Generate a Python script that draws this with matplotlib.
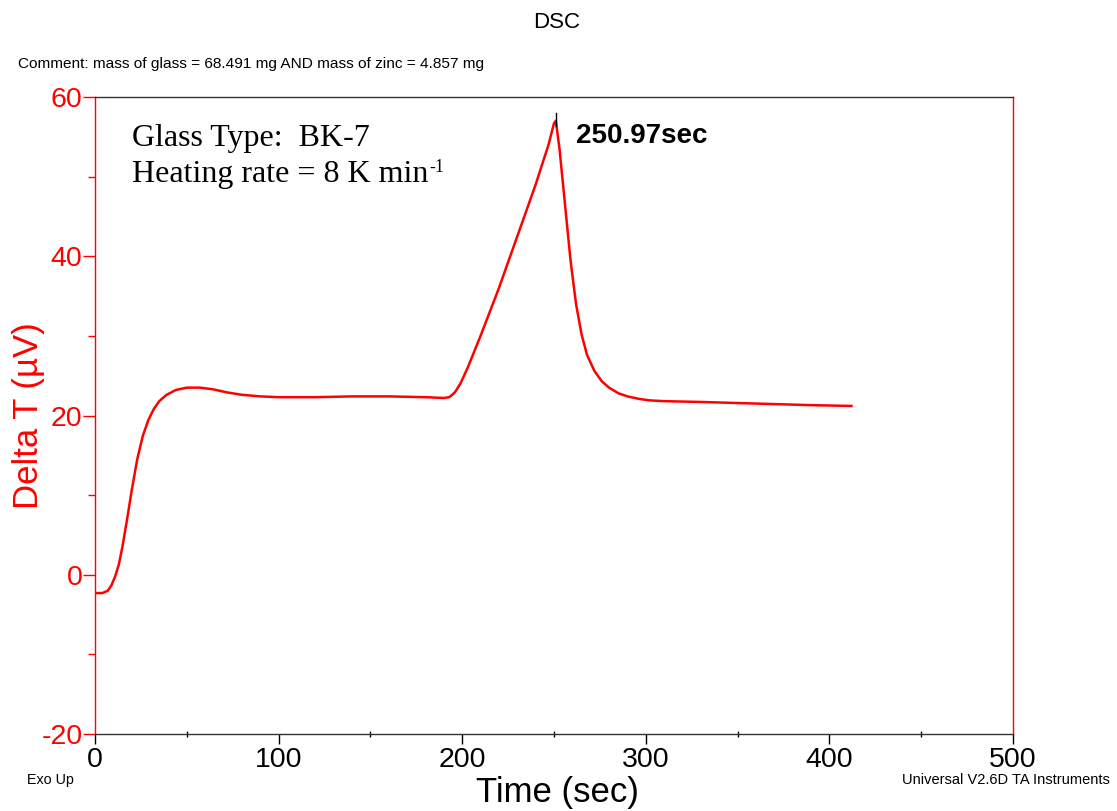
import numpy as np
import matplotlib
matplotlib.use("Agg")
import matplotlib.pyplot as plt
from matplotlib.ticker import MultipleLocator

plt.rcParams["axes.unicode_minus"] = False

# DSC trace (time in sec, Delta T in uV)
time_sec = [1, 4, 7, 9, 11, 13, 15, 17.5, 20, 23, 26, 29, 32, 35, 39, 44, 50, 57, 64,
            72, 80, 90, 100, 120, 140, 160, 180, 190, 193, 196, 199, 203, 210, 220,
            230, 240, 247, 250, 251, 253, 256, 259, 262, 265, 268, 272, 276, 280,
            285, 290, 296, 302, 310, 330, 360, 390, 412]
delta_t = [-2.3, -2.3, -2.0, -1.3, -0.2, 1.3, 3.6, 7.0, 10.6, 14.5, 17.4, 19.4, 20.8,
           21.8, 22.6, 23.2, 23.5, 23.5, 23.3, 22.9, 22.6, 22.4, 22.3, 22.3, 22.4,
           22.4, 22.3, 22.2, 22.3, 22.9, 24.0, 26.0, 30.0, 36.0, 42.5, 49.0, 54.0,
           56.7, 57.0, 53.5, 46.5, 39.5, 34.0, 30.2, 27.6, 25.6, 24.3, 23.5, 22.8,
           22.4, 22.1, 21.9, 21.8, 21.7, 21.5, 21.3, 21.2]

peak_time = 250.97
peak_label = "250.97sec"

x_ticks = [0, 100, 200, 300, 400, 500]
y_ticks = [-20, 0, 20, 40, 60]

fig = plt.figure(figsize=(11.17, 8.11), dpi=100)
ax = fig.add_axes([95 / 1117, 1 - 734 / 811, 918 / 1117, 637 / 811])

ax.plot(time_sec, delta_t, color="red", linewidth=1.8)
ax.plot([peak_time, peak_time], [56.3, 58.0], color="black", linewidth=1.0)

ax.set_xlim(0, 500)
ax.set_ylim(-20, 60)
ax.set_xticks(x_ticks)
ax.set_yticks(y_ticks)
ax.xaxis.set_minor_locator(MultipleLocator(50))
ax.yaxis.set_minor_locator(MultipleLocator(10))

ax.tick_params(axis="x", which="major", direction="out", length=7, width=1,
               color="black", labelsize=20.5, pad=2.5)
ax.tick_params(axis="x", which="minor", direction="inout", length=4, width=1, color="black")
ax.tick_params(axis="y", which="major", direction="out", length=9, width=1,
               color="red", labelcolor="red", labelsize=20.5, pad=0)
ax.tick_params(axis="y", which="minor", direction="out", length=5, width=1, color="red")
for lbl in ax.get_xticklabels() + ax.get_yticklabels():
    lbl.set_fontfamily("Liberation Sans")

ax.spines["left"].set_color("red")
ax.spines["right"].set_color("red")
ax.spines["top"].set_color("#333333")
ax.spines["bottom"].set_color("#333333")
for s in ax.spines.values():
    s.set_linewidth(1.0)

fig.text(557 / 1117, 1 - 802 / 811, "Time (sec)", fontsize=25, family="Liberation Sans",
         ha="center", va="baseline")
fig.text(29 / 1117, 1 - 416 / 811, "Delta T (\u00b5V)", fontsize=25, family="Liberation Sans",
         color="red", rotation=90, ha="center", va="center")

ax.text(262, 54.2, peak_label, fontsize=20, fontweight="bold",
        family="Liberation Sans", va="baseline", ha="left")
ax.text(20.2, 53.85, "Glass Type:  BK-7", fontsize=23, family="Liberation Serif",
        va="baseline", ha="left")
rate = ax.text(20.2, 49.33, "Heating rate = 8 K min", fontsize=23,
               family="Liberation Serif", va="baseline", ha="left")
ax.annotate("-1", xy=(1, 1), xycoords=rate, xytext=(0.3, 1), textcoords="offset points",
            fontsize=13, family="Liberation Serif", ha="left", va="top")

fig.text(557 / 1117, 1 - 22 / 811, "DSC", fontsize=16, family="Liberation Sans",
         ha="center", va="center")
fig.text(18 / 1117, 1 - 64 / 811, "Comment: mass of glass = 68.491 mg AND mass of zinc = 4.857 mg",
         fontsize=11.1, family="Liberation Sans", ha="left", va="center")
fig.text(27 / 1117, 1 - 780 / 811, "Exo Up", fontsize=10.3, family="Liberation Sans",
         ha="left", va="center")
fig.text(1110 / 1117, 1 - 780 / 811, "Universal V2.6D TA Instruments", fontsize=10.5,
         family="Liberation Sans", ha="right", va="center")

fig.savefig("out.png", dpi=100)
